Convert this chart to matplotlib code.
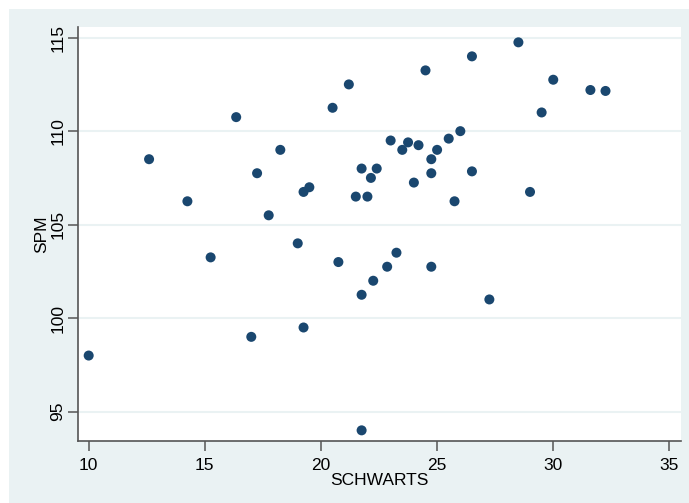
import matplotlib.pyplot as plt
from matplotlib.patches import Rectangle

# data
schwarts = [10, 12.6, 14.25, 15.25, 16.35, 17, 17.25, 17.75, 18.25, 19,
            19.25, 19.5, 19.25, 20.5, 20.75, 21.2, 21.5, 21.75, 21.75, 21.75,
            22, 22.15, 22.4, 22.25, 22.85, 23, 23.25, 23.5, 23.75, 24,
            24.2, 24.5, 24.75, 24.75, 24.75, 25, 25.5, 25.75, 26, 26.5,
            26.5, 27.25, 28.5, 29, 29.5, 30, 31.6, 32.25]
spm = [98, 108.5, 106.25, 103.25, 110.75, 99, 107.75, 105.5, 109, 104,
       106.75, 107, 99.5, 111.25, 103, 112.5, 106.5, 108, 101.25, 94,
       106.5, 107.5, 108, 102, 102.75, 109.5, 103.5, 109, 109.4, 107.25,
       109.25, 113.25, 108.5, 107.75, 102.75, 109, 109.6, 106.25, 110, 114,
       107.85, 101, 114.75, 106.75, 111, 112.75, 112.2, 112.15]
x_ticks = [10, 15, 20, 25, 30, 35]
y_ticks = [95, 100, 105, 110, 115]

plt.rcParams['font.family'] = ['Liberation Sans', 'DejaVu Sans']

bg = '#EAF2F3'
fig = plt.figure(figsize=(6.89, 5.03), dpi=100, facecolor='white')
fig.add_artist(Rectangle((9/689, 0), 680/689, 494/503, transform=fig.transFigure,
                         facecolor=bg, edgecolor='none', zorder=-10))

ax = fig.add_axes([78/689, 62/503, 603/689, 414/503])
ax.set_facecolor('white')
ax.scatter(schwarts, spm, s=52, color='#1A476F', edgecolors='none', zorder=3)

ax.set_xlim(9.54, 35.5)
ax.set_ylim(93.43, 115.57)
ax.set_xticks(x_ticks)
ax.set_yticks(y_ticks)
ax.grid(axis='y', color=bg, linewidth=1.5, zorder=1)
ax.set_axisbelow(True)

for side in ['top', 'right']:
    ax.spines[side].set_visible(False)
for side in ['left', 'bottom']:
    ax.spines[side].set_color('#555555')
    ax.spines[side].set_linewidth(1.2)

ax.tick_params(axis='both', direction='out', length=7, width=1.1, color='#555555',
               labelsize=12.5)
ax.tick_params(axis='x', pad=5)
ax.tick_params(axis='y', pad=2)
plt.setp(ax.get_yticklabels(), rotation=90, va='center')

ax.set_xlabel('SCHWARTS', fontsize=12.5, labelpad=0)
ax.set_ylabel('SPM', fontsize=12.5, labelpad=1)

fig.savefig('out.png', dpi=100, facecolor=fig.get_facecolor())
